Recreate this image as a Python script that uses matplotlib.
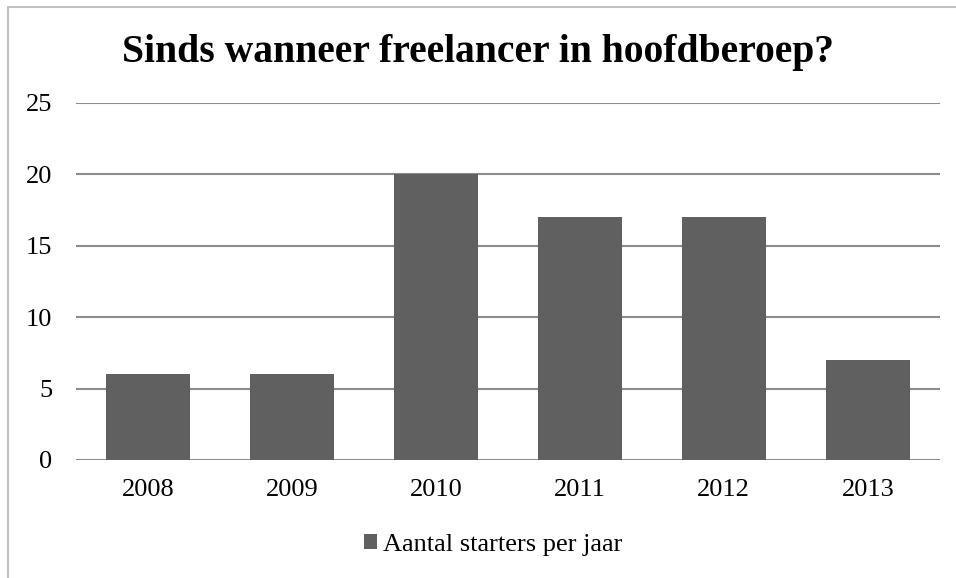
import matplotlib.pyplot as plt
from matplotlib.patches import Rectangle

years = ["2008", "2009", "2010", "2011", "2012", "2013"]
starters = [6, 6, 20, 17, 17, 7]
y_ticks = [0, 5, 10, 15, 20, 25]

plt.rcParams['font.family'] = ['Liberation Serif', 'DejaVu Serif']

fig = plt.figure(figsize=(9.56, 5.78), dpi=100)
ax = fig.add_axes([0.0795, 0.2042, 0.9035, 0.6176])

# bars
ax.bar(range(len(years)), starters, width=0.58, color="#606060",
       label="Aantal starters per jaar", zorder=3)

ax.set_xlim(-0.5, len(years) - 0.5)
ax.set_ylim(0, 25)
ax.set_yticks(y_ticks)
ax.set_xticks(range(len(years)))
ax.set_xticklabels(years)
ax.tick_params(axis="both", length=0, labelsize=19)
ax.tick_params(axis="y", pad=17)
ax.tick_params(axis="x", pad=14)
for t in y_ticks:
    ax.axhline(t, color="#8c8c8c", linewidth=1.5, zorder=1)
for s in ax.spines.values():
    s.set_visible(False)

fig.suptitle("Sinds wanneer freelancer in hoofdberoep?", x=0.5, y=0.942,
             fontsize=28.5, fontweight="bold")

fig.legend(loc="center", bbox_to_anchor=(0.516, 0.057), frameon=False,
           fontsize=19, handlelength=0.47, handleheight=0.47, handletextpad=0.25)

# outer border of the chart
fig.patches.append(Rectangle((8 / 956, -0.1), 1.1, 1.1 - 7 / 578,
                             transform=fig.transFigure, fill=False,
                             edgecolor="#c0c0c0", linewidth=1.5))

fig.savefig("out.png", dpi=100)
